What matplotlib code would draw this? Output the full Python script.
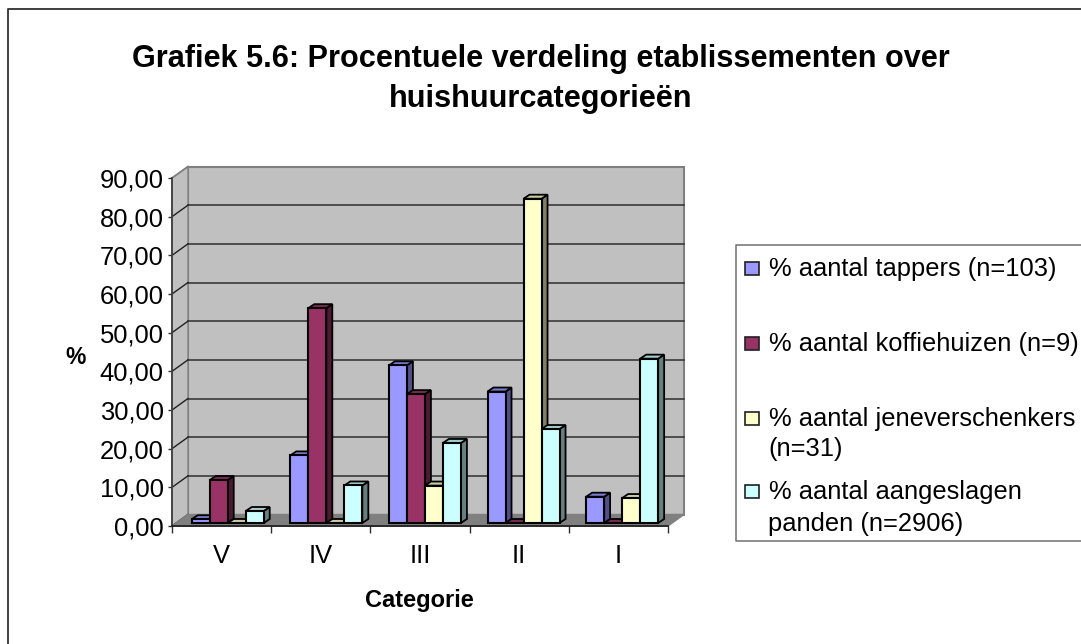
import matplotlib
matplotlib.use('Agg')
import matplotlib.pyplot as plt
import numpy as np

plt.rcParams['font.family'] = ['Liberation Sans', 'DejaVu Sans']

categories = ['V', 'IV', 'III', 'II', 'I']
tappers = [0.97, 17.48, 40.78, 34.00, 6.80]
koffiehuizen = [11.11, 55.56, 33.33, 0.0, 0.0]
jeneverschenkers = [0.0, 0.0, 9.68, 83.87, 6.45]
panden = [3.10, 9.70, 20.70, 24.30, 42.50]
yticks = [0, 10, 20, 30, 40, 50, 60, 70, 80, 90]

series = [tappers, koffiehuizen, jeneverschenkers, panden]
fronts = ['#9999FF', '#993366', '#FFFFCC', '#CCFFFF']
sides = ['#4F4F85', '#4D1A33', '#808066', '#668080']
tops = ['#7C7CD0', '#7A2952', '#CCCCA3', '#A3CCCC']
legend_rows = [('% aantal tappers (n=103)', 267), ('% aantal koffiehuizen (n=9)', 342),
               ('% aantal jeneverschenkers', 417), ('% aantal aangeslagen', 490)]
legend_extra = [('(n=31)', 447), ('panden (n=2906)', 522)]

W, H = 1081, 644
fig = plt.figure(figsize=(W / 100, H / 100), dpi=100)

# overlay in pixels for frame, legend box and titles
bg = fig.add_axes([0, 0, 1, 1])
bg.set_xlim(0, W)
bg.set_ylim(H, 0)
bg.axis('off')
bg.plot([1090, 8, 8], [9, 9, 650], color='#303030', lw=1.3)
bg.plot([1090, 736, 736, 1090], [245, 245, 541, 541], color='#707070', lw=1.1)
bg.text(541, 59, 'Grafiek 5.6: Procentuele verdeling etablissementen over',
        ha='center', va='center', fontsize=22.05, fontweight='bold')
bg.text(541, 99, 'huishuurcategorieën', ha='center', va='center', fontsize=22.05, fontweight='bold')
bg.text(76, 357, '%', ha='center', va='center', fontsize=16.5, fontweight='bold')
bg.text(419, 601, 'Categorie', ha='center', va='center', fontsize=17, fontweight='bold')
for i, (txt, y) in enumerate(legend_rows):
    bg.add_patch(plt.Rectangle((745, y - 5), 14, 13, fc=fronts[i], ec='#202020', lw=1.2))
    bg.text(769, y + 1.5, txt, ha='left', va='center', fontsize=18.4)
for txt, y in legend_extra:
    bg.text(768, y + 1.5, txt, ha='left', va='center', fontsize=18.4)

# main axes is the front plane of the 3d box
ax = fig.add_axes([172 / W, 1 - 526 / H, (668 - 172) / W, (526 - 178) / H])
ax.patch.set_visible(False)
ax.set_xlim(0, 5)
ax.set_ylim(0, 90)
for s in ['top', 'right']:
    ax.spines[s].set_visible(False)
ax.spines['left'].set_color('#404040')
ax.spines['bottom'].set_color('#202020')
ax.spines['left'].set_linewidth(1.3)
ax.spines['bottom'].set_linewidth(1.3)
ax.set_xticks(range(6))
ax.set_xticklabels([])
ax.set_xticks(np.arange(5) + 0.5, categories, minor=True)
ax.tick_params(axis='x', which='major', length=5, width=1, color='#303030')
ax.tick_params(axis='x', which='minor', length=0, pad=13, labelsize=18.4)
ax.set_yticks(yticks)
ax.set_yticklabels(['%d,00' % v for v in yticks], fontsize=18.4)
ax.tick_params(axis='y', length=3, width=1, color='#303030', pad=3)

# depth of the box and of the bars, in data units
dx = 16 / 99.2
dy = 11.5 / 3.867
bar_dx = 6 / 99.2
bar_dy = 4 / 3.867
base = 3 / 3.867
bar_w = 0.1815
group_start = 0.1986
group_step = 0.994

ax.fill([dx, 5 + dx, 5 + dx, dx], [dy, dy, 90 + dy, 90 + dy], fc='#C0C0C0', ec='#808080',
        lw=1.5, clip_on=False, zorder=1)
ax.fill([0, dx, dx, 0], [0, dy, 90 + dy, 90], fc='#C0C0C0', ec='#808080', lw=1.0, clip_on=False, zorder=1)
ax.fill([0, 5, 5 + dx, dx], [0, 0, dy, dy], fc='#808080', ec='#808080', lw=1, clip_on=False, zorder=1.5)
for v in yticks[1:-1]:
    ax.plot([dx, 5 + dx], [v + dy, v + dy], color='#3A3A3A', lw=1.2, clip_on=False, zorder=1.2)
for v in yticks[:-1]:
    ax.plot([0, dx], [v, v + dy], color='#202020', lw=1.0, clip_on=False, zorder=1.2)
ax.plot([0, dx], [90, 90 + dy], color='#808080', lw=1.2, clip_on=False, zorder=1.2)

z = 2
for c in range(len(categories)):
    for s, values in enumerate(series):
        x0 = group_start + c * group_step + s * bar_w
        x1 = x0 + bar_w
        v = values[c]
        ax.fill([x1, x1 + bar_dx, x1 + bar_dx, x1],
                [base, base + bar_dy, base + v + bar_dy, base + v],
                fc=sides[s], ec='black', lw=1.3, zorder=z, clip_on=False)
        ax.fill([x0, x1, x1 + bar_dx, x0 + bar_dx],
                [base + v, base + v, base + v + bar_dy, base + v + bar_dy],
                fc=tops[s], ec='black', lw=1.3, zorder=z, clip_on=False)
        ax.bar(x0, v, bar_w, bottom=base, align='edge', color=fronts[s], edgecolor='black',
               linewidth=1.5, zorder=z + 0.5, clip_on=False)
        z += 1

fig.savefig('out.png', dpi=100)
